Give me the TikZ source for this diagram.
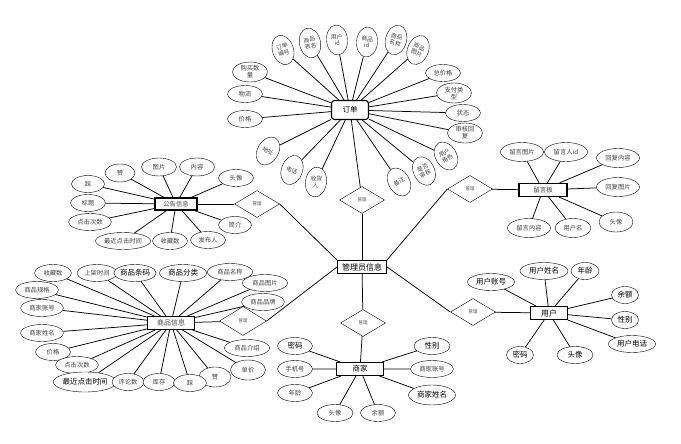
\documentclass[tikz,border=0pt]{standalone}
\usepackage{fontspec}
\setmainfont{Noto Sans CJK SC}
\usetikzlibrary{shapes.geometric}

\begin{document}
\begin{tikzpicture}[
  x=1pt, y=-1pt,
  entity/.style={rectangle, draw, line width=1.1pt, fill=white, inner sep=1pt, minimum height=13pt, font=\fontsize{7.5}{8}\selectfont},
  rel/.style={diamond, draw, fill=white, inner sep=0pt, minimum width=45pt, minimum height=27pt, font=\fontsize{4.5}{5}\selectfont, text=black!70},
  attr/.style={ellipse, draw, fill=white, inner sep=0pt, minimum width=35pt, minimum height=17pt, align=center, font=\fontsize{6.3}{7}\selectfont, text=black!75},
  attrb/.style={attr, font=\fontsize{7.5}{8}\selectfont, text=black},
  tilt/.style={attr, minimum width=21pt, minimum height=30pt, font=\fontsize{5.8}{6.5}\selectfont, rotate=#1},
  link/.style={line width=0.75pt}
]
\useasboundingbox (0,0) rectangle (681,444);

% entities
\node[entity, rounded corners=3pt, minimum width=37pt, minimum height=19pt] (order) at (350,110) {订单};
\node[entity, minimum width=49pt, font=\fontsize{8}{9}\selectfont] (admin) at (362,267) {管理员信息};
\node[entity, minimum width=47pt] (shop) at (360,369) {商家};
\node[entity, minimum width=37pt, font=\fontsize{8}{9}\selectfont] (user) at (549,313) {用户};
\node[entity, minimum width=48pt, font=\fontsize{6.5}{7}\selectfont, text=black!75] (board) at (543,190) {留言板};
\node[entity, minimum width=42pt, minimum height=12pt, font=\fontsize{6.3}{7}\selectfont, text=black!75] (notice) at (176,204) {公告信息};
\node[entity, minimum width=47pt, font=\fontsize{7}{8}\selectfont, text=black!75] (goods) at (171,323) {商品信息};

% relations
\node[rel] (rOrder) at (362,200) {管理};
\node[rel] (rShop) at (363,323) {管理};
\node[rel] (rUser) at (473,312) {管理};
\node[rel] (rBoard) at (470,189) {管理};
\node[rel] (rNotice) at (257,204) {管理};
\node[rel, minimum width=47pt, minimum height=29pt] (rGoods) at (243,321) {管理};

% order attributes
\node[tilt=18] (oNo) at (283,50) {订单\\编号};
\node[tilt=12] (oTable) at (310,43) {商品\\表名};
\node[tilt=5] (oUid) at (337,40) {用户\\id};
\node[tilt=-5] (oGid) at (367,42) {商品\\id};
\node[tilt=-15] (oGname) at (396,40) {商品\\名称};
\node[tilt=-22] (oGpic) at (418,50) {商品\\图片};
\node[attr] (oTotal) at (443,73) {总价格};
\node[attr, minimum height=20pt] (oPay) at (454,93) {支付类\\型};
\node[attr] (oState) at (463,113) {状态};
\node[attr, minimum height=20pt] (oReply) at (465,133) {审核回\\复};
\node[tilt=30] (oRole) at (446,156) {用户\\角色};
\node[tilt=25] (oCheck) at (424,171) {是否\\审核};
\node[tilt=30] (oNote) at (399,182) {备注};
\node[tilt=-8] (oRecv) at (316,182) {收货\\人};
\node[tilt=-20] (oTel) at (292,170) {电话};
\node[tilt=-30] (oAddr) at (268,151) {地址};
\node[attr] (oPrice) at (245,119) {价格};
\node[attr] (oShip) at (245,94) {物流};
\node[attr, minimum height=20pt] (oQty) at (250,72) {购买数\\量};

% notice attributes
\node[attr, minimum width=30pt, minimum height=18pt] (nZan) at (120,173) {赞};
\node[attr, minimum height=18pt] (nPic) at (159,167) {图片};
\node[attr, minimum height=18pt] (nText) at (197,167) {内容};
\node[attr] (nHead) at (236,178) {头像};
\node[attr, minimum width=33pt] (nCai) at (88,184) {踩};
\node[attr] (nTitle) at (88,203) {标题};
\node[attr, minimum width=43pt] (nClick) at (90,222) {点击次数};
\node[attr, minimum width=55pt] (nLast) at (123,241) {最近点击时间};
\node[attr] (nFav) at (170,241) {收藏数};
\node[attr] (nAuthor) at (208,240) {发布人};
\node[attr, minimum width=33pt] (nBrief) at (235,225) {简介};

% board attributes
\node[attr, minimum width=43pt, minimum height=19pt] (bPic) at (522,152) {留言图片};
\node[attr, minimum width=43pt, minimum height=19pt] (bUid) at (566,152) {留言人id};
\node[attr, minimum width=43pt, minimum height=19pt] (bReply) at (618,158) {回复内容};
\node[attr, minimum width=43pt, minimum height=19pt] (bRpic) at (618,187) {回复图片};
\node[attr, minimum width=34pt, minimum height=20pt] (bHead) at (616,222) {头像};
\node[attr, minimum width=43pt, minimum height=19pt] (bText) at (529,228) {留言内容};
\node[attr, minimum width=36pt, minimum height=19pt] (bName) at (573,228) {用户名};

% user attributes
\node[attrb, minimum width=47pt] (uAcc) at (491,282) {用户账号};
\node[attrb, minimum width=48pt] (uName) at (544,271) {用户姓名};
\node[attrb, minimum width=28pt] (uAge) at (585,271) {年龄};
\node[attrb, minimum width=27pt] (uBal) at (625,295) {余额};
\node[attrb, minimum width=27pt] (uSex) at (625,320) {性别};
\node[attrb, minimum width=47pt] (uTel) at (632,344) {用户电话};
\node[attrb, minimum width=27pt] (uPwd) at (520,355) {密码};
\node[attrb, minimum width=36pt] (uHead) at (575,355) {头像};

% shop attributes
\node[attrb] (sPwd) at (295,346) {密码};
\node[attr] (sTel) at (295,369) {手机号};
\node[attr] (sAge) at (295,393) {年龄};
\node[attr, minimum width=36pt] (sHead) at (335,413) {头像};
\node[attr] (sBal) at (378,413) {余额};
\node[attrb, minimum width=36pt] (sSex) at (432,346) {性别};
\node[attr, minimum width=43pt] (sAcc) at (432,369) {商家账号};
\node[attrb, minimum width=47pt, minimum height=20pt] (sName) at (432,395) {商家姓名};

% goods attributes
\node[attr, minimum width=37pt] (gFav) at (53,273) {收藏数};
\node[attr, minimum width=40pt] (gTime) at (97,273) {上架时间};
\node[attrb, minimum width=42pt] (gCode) at (135,273) {商品条码};
\node[attrb, minimum width=47pt] (gCat) at (183,273) {商品分类};
\node[attr, minimum width=45pt] (gName) at (230,272) {商品名称};
\node[attr, minimum width=45pt] (gPic) at (265,283) {商品图片};
\node[attr, minimum width=43pt] (gBrand) at (263,302) {商品品牌};
\node[attr, minimum width=43pt] (gSpec) at (37,290) {商品规格};
\node[attr, minimum width=43pt] (gShopAcc) at (42,308) {商家账号};
\node[attr, minimum width=43pt] (gShopName) at (42,333) {商家姓名};
\node[attr] (gPrice) at (53,352) {价格};
\node[attr, minimum width=43pt] (gClick) at (77,365) {点击次数};
\node[attrb, minimum width=62pt, minimum height=20pt] (gLast) at (85,382) {最近点击时间};
\node[attr, minimum width=32pt] (gComm) at (128,382) {评论数};
\node[attr, minimum width=32pt] (gStock) at (159,382) {库存};
\node[attr, minimum width=32pt, minimum height=20pt] (gZan) at (215,377) {赞};
\node[attr, minimum width=33pt] (gCai) at (190,383) {踩};
\node[attr, minimum width=35pt, minimum height=20pt] (gUnit) at (248,370) {单价};
\node[attr, minimum width=45pt] (gIntro) at (247,348) {商品介绍};

% relation links
\draw[link] (order) -- (rOrder);
\draw[link] (rOrder) -- (admin);
\draw[link] (admin) -- (rShop);
\draw[link] (rShop) -- (shop);
\draw[link] (admin.east) -- (rUser.west);
\draw[link] (rUser) -- (user);
\draw[link] (admin.north east) -- (rBoard.west);
\draw[link] (rBoard) -- (board);
\draw[link] (admin.north west) -- (rNotice.east);
\draw[link] (rNotice) -- (notice);
\draw[link] (admin.west) -- (rGoods.east);
\draw[link] (rGoods) -- (goods);

% attribute links
\draw[link] (order) -- (oNo) (order) -- (oTable) (order) -- (oUid) (order) -- (oGid)
  (order) -- (oGname) (order) -- (oGpic) (order) -- (oTotal) (order) -- (oPay)
  (order) -- (oState) (order) -- (oReply) (order) -- (oRole) (order) -- (oCheck)
  (order) -- (oNote) (order) -- (oRecv) (order) -- (oTel) (order) -- (oAddr)
  (order) -- (oPrice) (order) -- (oShip) (order) -- (oQty);
\draw[link] (notice) -- (nZan) (notice) -- (nPic) (notice) -- (nText) (notice) -- (nHead)
  (notice) -- (nCai) (notice) -- (nTitle) (notice) -- (nClick) (notice) -- (nLast)
  (notice) -- (nFav) (notice) -- (nAuthor) (notice) -- (nBrief);
\draw[link] (board) -- (bPic) (board) -- (bUid) (board) -- (bReply) (board) -- (bRpic)
  (board) -- (bHead) (board) -- (bText) (board) -- (bName);
\draw[link] (user) -- (uAcc) (user) -- (uName) (user) -- (uAge) (user) -- (uBal)
  (user) -- (uSex) (user) -- (uTel) (user) -- (uPwd) (user) -- (uHead);
\draw[link] (shop) -- (sPwd) (shop) -- (sTel) (shop) -- (sAge) (shop) -- (sHead)
  (shop) -- (sBal) (shop) -- (sSex) (shop) -- (sAcc) (shop) -- (sName);
\draw[link] (goods) -- (gFav) (goods) -- (gTime) (goods) -- (gCode) (goods) -- (gCat)
  (goods) -- (gName) (goods) -- (gPic) (goods) -- (gBrand) (goods) -- (gSpec)
  (goods) -- (gShopAcc) (goods) -- (gShopName) (goods) -- (gPrice) (goods) -- (gClick)
  (goods) -- (gLast) (goods) -- (gComm) (goods) -- (gStock) (goods) -- (gZan)
  (goods) -- (gCai) (goods) -- (gUnit) (goods) -- (gIntro);
\end{tikzpicture}
\end{document}
